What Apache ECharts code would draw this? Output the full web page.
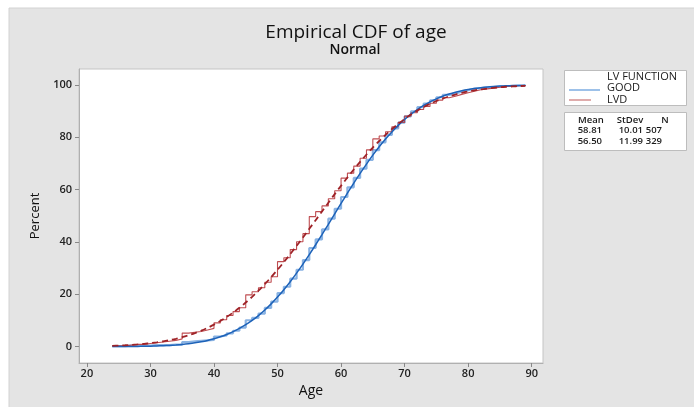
<!DOCTYPE html>
<html><head><meta charset="utf-8">
<script src="https://cdn.jsdelivr.net/npm/echarts@6/dist/echarts.min.js"></script>
<style>html,body{margin:0;padding:0;background:#fff}#c{width:694px;height:407px}</style>
</head><body><div id="c"></div><script>
// ---- data ----
const ages = [24,25,26,27,28,29,30,31,32,33,34,35,36,37,38,39,40,41,42,43,44,45,46,47,48,49,50,51,52,53,54,55,56,57,58,59,60,61,62,63,64,65,66,67,68,69,70,71,72,73,74,75,76,77,78,79,80,81,82,83,84,85,86,87,88,89];
const goodFit = [0.03,0.04,0.05,0.07,0.1,0.15,0.2,0.27,0.37,0.5,0.66,0.87,1.14,1.47,1.89,2.4,3.03,3.78,4.68,5.74,6.98,8.39,10.03,11.9,14.01,16.36,18.94,21.76,24.82,28.1,31.55,35.17,38.95,42.83,46.77,50.76,54.73,58.66,62.5,66.22,69.78,73.18,76.37,79.34,82.07,84.56,86.82,88.84,90.62,92.18,93.55,94.71,95.7,96.54,97.24,97.82,98.29,98.67,98.97,99.22,99.41,99.56,99.67,99.76,99.82,99.87];
const goodEcdf = [0.2,0.2,0.4,0.4,0.4,0.4,0.6,0.6,0.6,0.8,0.8,1.8,2.0,2.2,2.4,2.6,3.9,4.3,5.1,6.1,7.3,10.1,11.0,12.6,14.8,17.2,20.5,22.9,26.0,29.4,33.1,37.7,41.0,44.8,48.9,52.7,57.2,60.9,64.5,68.0,71.4,75.1,78.1,80.9,83.4,85.6,88.0,89.9,91.5,92.9,94.1,95.3,96.2,96.8,97.4,98.0,98.6,98.8,99.0,99.2,99.4,99.6,99.6,99.8,99.8,100];
const lvdFit = [0.34,0.43,0.55,0.69,0.87,1.09,1.36,1.67,2.05,2.5,3.03,3.65,4.36,5.2,6.14,7.22,8.44,9.8,11.33,13.01,14.85,16.88,19.05,21.41,23.92,26.57,29.39,32.31,35.38,38.52,41.72,45.03,48.34,51.66,54.97,58.28,61.48,64.62,67.69,70.61,73.43,76.08,78.59,80.95,83.12,85.15,86.99,88.67,90.2,91.56,92.78,93.86,94.8,95.64,96.35,96.97,97.5,97.95,98.33,98.64,98.91,99.13,99.31,99.45,99.57,99.66];
const lvdEcdf = [0.3,0.3,0.6,0.9,0.9,1.2,1.5,1.8,2.1,2.4,3.0,5.2,5.5,5.8,6.4,7.0,9.1,10.3,11.9,13.4,14.9,19.8,21.0,22.5,24.6,26.7,32.5,34.0,37.1,40.1,43.2,49.7,51.6,53.8,56.5,59.6,64.4,66.3,69.0,72.0,75.2,79.4,80.5,82.1,84.0,85.7,88.1,89.4,90.6,91.8,93.0,94.2,95.1,95.7,96.4,97.0,97.6,98.2,98.5,98.8,99.1,99.4,99.4,99.7,99.7,100];
const xTicks = [20,30,40,50,60,70,80,90];
const yTicks = [0,20,40,60,80,100];
const groups = ['GOOD','LVD'];
const statHeader = ['Mean','StDev','N'];
const statMean = ['58.81','56.50'];
const statSd = ['10.01','11.99'];
const statN = ['507','329'];
// ---------------------------------------
const pairs = (xs, ys) => xs.map((x, i) => [x, ys[i]]);
const FONT = '"Open Sans","Noto Sans",sans-serif';
const blue = '#1d62b8', blueStep = '#8ab3e3', red = '#9e2227', redStep = '#b83a3e';
const chart = echarts.init(document.getElementById('c'), null, {renderer: 'canvas'});
const txt = (x, y, t, opt) => ({type: 'text', x: x, y: y, z: 10,
  style: Object.assign({text: t, fill: '#1a1a1a', font: '500 11px ' + FONT, textVerticalAlign: 'middle'}, opt || {})});
const statFont = '600 9.5px ' + FONT;
chart.setOption({
  animation: false,
  backgroundColor: '#ffffff',
  graphic: [
    {type: 'rect', shape: {x: 9, y: 8, width: 686, height: 400}, style: {fill: '#e4e4e4', stroke: '#d2d2d2'}, z: -10, silent: true},
    {type: 'text', x: 356, y: 33, style: {text: 'Empirical CDF of age', fill: '#111', font: '500 19px ' + FONT, textAlign: 'center', textVerticalAlign: 'middle'}},
    {type: 'text', x: 355, y: 50, style: {text: 'Normal', fill: '#111', font: '600 14px ' + FONT, textAlign: 'center', textVerticalAlign: 'middle'}},
    {type: 'rect', shape: {x: 564.5, y: 70.5, width: 122, height: 35}, style: {fill: '#fff', stroke: '#bdbdbd'}},
    txt(607, 76.5, 'LV FUNCTION'),
    {type: 'line', shape: {x1: 569, y1: 90, x2: 600, y2: 90}, style: {stroke: '#5b97da', lineWidth: 1.2}, z: 10},
    txt(607, 88, groups[0]),
    {type: 'line', shape: {x1: 569, y1: 100, x2: 591, y2: 100}, style: {stroke: '#c97474', lineWidth: 1.2}, z: 10},
    txt(607, 99.5, groups[1]),
    {type: 'rect', shape: {x: 564.5, y: 112.5, width: 122, height: 38}, style: {fill: '#fff', stroke: '#bdbdbd'}},
    txt(591, 120, statHeader[0], {textAlign: 'center', font: statFont}),
    txt(630, 120, statHeader[1], {textAlign: 'center', font: statFont}),
    txt(665, 120, statHeader[2], {textAlign: 'center', font: statFont}),
    txt(602, 130.5, statMean[0], {textAlign: 'right', font: statFont}),
    txt(643, 130.5, statSd[0], {textAlign: 'right', font: statFont}),
    txt(662, 130.5, statN[0], {textAlign: 'right', font: statFont}),
    txt(602, 141.5, statMean[1], {textAlign: 'right', font: statFont}),
    txt(643, 141.5, statSd[1], {textAlign: 'right', font: statFont}),
    txt(662, 141.5, statN[1], {textAlign: 'right', font: statFont})
  ],
  grid: {left: 79, top: 69, right: 151, bottom: 44, show: true, backgroundColor: '#ffffff', borderColor: '#c4c4c4', borderWidth: 1},
  xAxis: {
    type: 'value', min: 18.76, max: 91.78,
    name: 'Age', nameLocation: 'middle', nameGap: 17,
    nameTextStyle: {fontFamily: FONT, fontSize: 14, color: '#111', fontWeight: 500},
    axisLine: {show: true, onZero: false, lineStyle: {color: '#b0b0b0'}},
    axisTick: {show: true, length: 4, lineStyle: {color: '#888'}, customValues: xTicks},
    axisLabel: {customValues: xTicks, margin: 5, fontFamily: FONT, fontSize: 11, fontWeight: 600, color: '#222'},
    splitLine: {show: false}
  },
  yAxis: {
    type: 'value', min: -6.23, max: 106.1,
    name: 'Percent', nameLocation: 'middle', nameGap: 36, nameRotate: 90,
    nameTextStyle: {fontFamily: FONT, fontSize: 13, color: '#111', fontWeight: 500},
    axisLine: {show: true, onZero: false, lineStyle: {color: '#b0b0b0'}},
    axisTick: {show: true, length: 4, lineStyle: {color: '#888'}, customValues: yTicks},
    axisLabel: {customValues: yTicks, margin: 7, fontFamily: FONT, fontSize: 11, fontWeight: 600, color: '#222'},
    splitLine: {show: false}
  },
  series: [
    {name: 'GOOD ECDF', type: 'line', step: 'end', data: pairs(ages, goodEcdf), showSymbol: false,
     lineStyle: {color: blueStep, width: 2.2}, z: 2},
    {name: 'LVD ECDF', type: 'line', step: 'end', data: pairs(ages, lvdEcdf), showSymbol: false,
     lineStyle: {color: redStep, width: 1.1, opacity: 0.9}, z: 3},
    {name: groups[0], type: 'line', data: pairs(ages, goodFit), showSymbol: false, smooth: 0.3,
     lineStyle: {color: blue, width: 1.5}, z: 4},
    {name: groups[1], type: 'line', data: pairs(ages, lvdFit), showSymbol: false, smooth: 0.3,
     lineStyle: {color: red, width: 1.8, type: [6, 4]}, z: 5}
  ]
});
</script></body></html>
